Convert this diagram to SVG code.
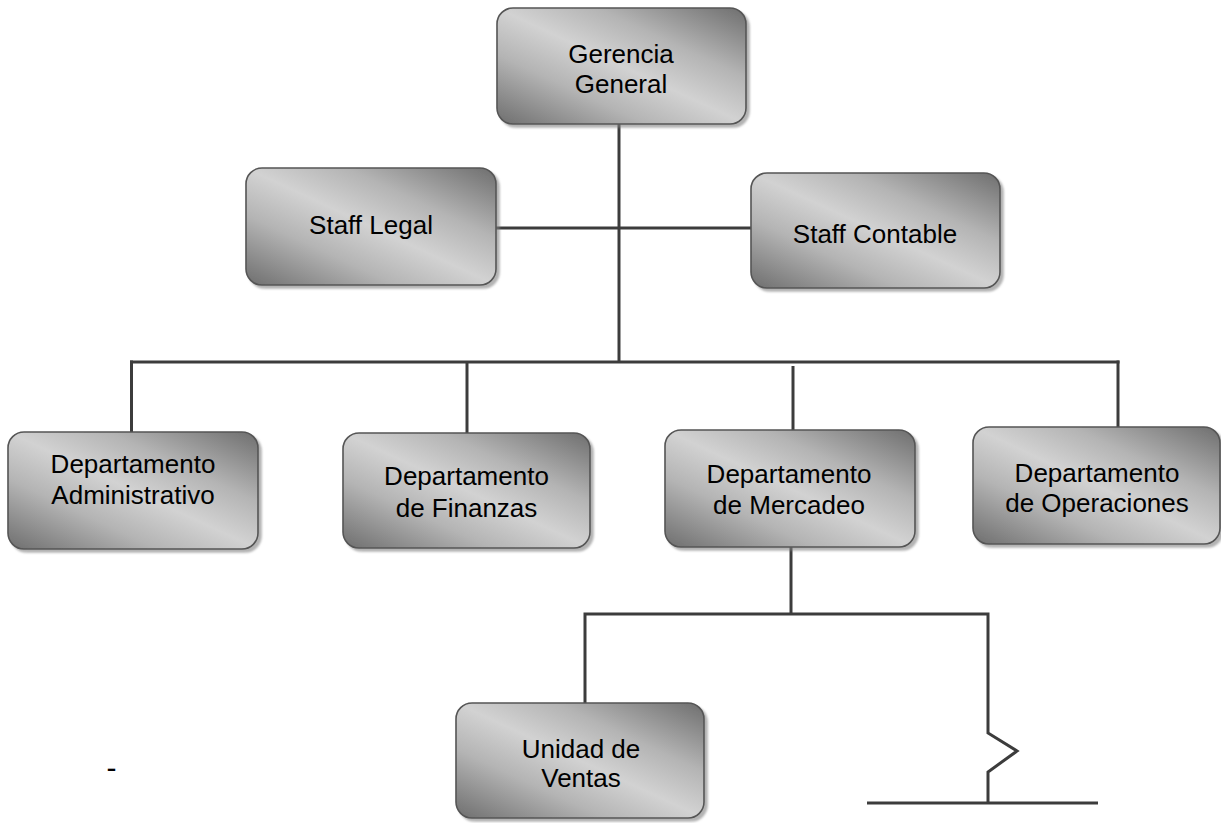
<svg xmlns="http://www.w3.org/2000/svg" width="1221" height="823" viewBox="0 0 1221 823">
<style>
.box{fill:url(#g);stroke:#555;stroke-width:1.6;filter:url(#sh)}
.t{font-family:"Liberation Sans",Arial,sans-serif;font-size:26px;fill:#000;text-anchor:middle}
.c{fill:none;stroke:#3c3c3c;stroke-width:3;stroke-linejoin:miter}
</style>
<defs>
<linearGradient id="g" x1="1" y1="0" x2="0" y2="1">
<stop offset="0" stop-color="#6e6e6e"/>
<stop offset="0.3" stop-color="#b4b4b4"/>
<stop offset="0.5" stop-color="#d2d2d2"/>
<stop offset="0.7" stop-color="#b4b4b4"/>
<stop offset="1" stop-color="#6e6e6e"/>
</linearGradient>
<filter id="sh" x="-10%" y="-10%" width="125%" height="130%">
<feDropShadow dx="3" dy="3" stdDeviation="1" flood-color="#808080" flood-opacity="0.6"/>
</filter>
</defs>
<g id="connectors">
<line class="c" x1="619" y1="124" x2="619" y2="362"/>
<line class="c" x1="496" y1="228" x2="751" y2="228"/>
<line class="c" x1="130" y1="362" x2="1119.5" y2="362"/>
<line class="c" x1="131.5" y1="360.5" x2="131.5" y2="432"/>
<line class="c" x1="467" y1="362" x2="467" y2="433"/>
<line class="c" x1="793" y1="366" x2="793" y2="430"/>
<line class="c" x1="1118" y1="360.5" x2="1118" y2="427"/>
<line class="c" x1="791" y1="547" x2="791" y2="614"/>
<polyline class="c" points="585,703 585,614 988,614 988,733 1017,751 988,772 988,803"/>
<line class="c" x1="867" y1="803" x2="1098" y2="803"/>
</g>
<g id="gerencia-general">
<rect class="box" x="497" y="8" width="249" height="116" rx="16"/>
<text class="t" x="621" y="63">Gerencia</text>
<text class="t" x="621" y="93">General</text>
</g>
<g id="staff-legal">
<rect class="box" x="246" y="168" width="250" height="117" rx="16"/>
<text class="t" x="371" y="234">Staff Legal</text>
</g>
<g id="staff-contable">
<rect class="box" x="751" y="173" width="249" height="115" rx="16"/>
<text class="t" x="875" y="243">Staff Contable</text>
</g>
<g id="dept-administrativo">
<rect class="box" x="8" y="432" width="250" height="117" rx="16"/>
<text class="t" x="133" y="473">Departamento</text>
<text class="t" x="133" y="504">Administrativo</text>
</g>
<g id="dept-finanzas">
<rect class="box" x="343" y="433" width="247" height="115" rx="16"/>
<text class="t" x="466.5" y="485">Departamento</text>
<text class="t" x="466.5" y="517">de Finanzas</text>
</g>
<g id="dept-mercadeo">
<rect class="box" x="665" y="430" width="250" height="117" rx="16"/>
<text class="t" x="789" y="483">Departamento</text>
<text class="t" x="789" y="514">de Mercadeo</text>
</g>
<g id="dept-operaciones">
<rect class="box" x="973" y="427" width="247" height="117" rx="16"/>
<text class="t" x="1097" y="482">Departamento</text>
<text class="t" x="1097" y="512">de Operaciones</text>
</g>
<g id="unidad-ventas">
<rect class="box" x="456" y="703" width="248" height="115" rx="16"/>
<text class="t" x="581" y="758">Unidad de</text>
<text class="t" x="581" y="787">Ventas</text>
</g>
<text class="t" x="111.5" y="778" style="font-size:30px">-</text>
</svg>
